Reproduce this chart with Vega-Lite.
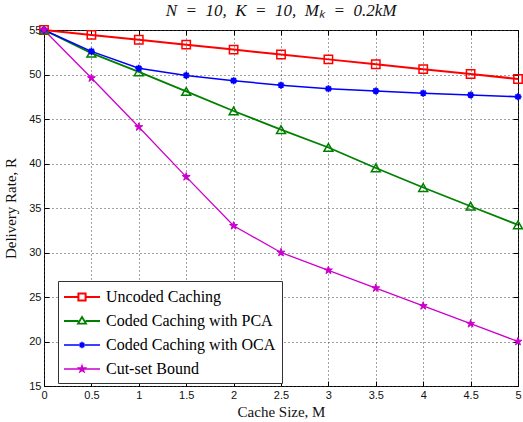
{
  "$schema": "https://vega.github.io/schema/vega-lite/v6.json",
  "width": 474,
  "height": 356,
  "autosize": {"type": "none"},
  "padding": {"left": 44, "top": 30, "right": 5, "bottom": 36},
  "background": "white",
  "config": {
    "view": {"stroke": "#000", "strokeWidth": 1},
    "axis": {
      "labelFont": "Liberation Sans", "labelFontSize": 11, "labelColor": "#111",
      "titleFont": "Liberation Serif", "titleFontSize": 15, "titleFontWeight": "normal", "titleColor": "#111",
      "domain": false, "tickColor": "#000", "tickSize": -5,
      "gridColor": "#444", "gridDash": [1, 3], "gridWidth": 1, "gridOpacity": 1
    }
  },
  "title": {
    "text": "N \u2005= \u200510,\u2002K \u2005= \u200510,\u2002Mₖ \u2005= \u20050.2kM",
    "font": "Liberation Serif", "fontSize": 17, "fontStyle": "italic", "fontWeight": "normal",
    "color": "#111", "anchor": "middle", "offset": 3
  },
  "data": {
    "values": [
      {"M": 0, "series": "Uncoded Caching", "R": 55},
      {"M": 0.5, "series": "Uncoded Caching", "R": 54.45},
      {"M": 1, "series": "Uncoded Caching", "R": 53.9},
      {"M": 1.5, "series": "Uncoded Caching", "R": 53.35},
      {"M": 2, "series": "Uncoded Caching", "R": 52.8},
      {"M": 2.5, "series": "Uncoded Caching", "R": 52.25},
      {"M": 3, "series": "Uncoded Caching", "R": 51.7},
      {"M": 3.5, "series": "Uncoded Caching", "R": 51.15},
      {"M": 4, "series": "Uncoded Caching", "R": 50.6},
      {"M": 4.5, "series": "Uncoded Caching", "R": 50.05},
      {"M": 5, "series": "Uncoded Caching", "R": 49.5},
      {"M": 0, "series": "Coded Caching with PCA", "R": 55},
      {"M": 0.5, "series": "Coded Caching with PCA", "R": 52.4},
      {"M": 1, "series": "Coded Caching with PCA", "R": 50.3},
      {"M": 1.5, "series": "Coded Caching with PCA", "R": 48.1},
      {"M": 2, "series": "Coded Caching with PCA", "R": 45.9},
      {"M": 2.5, "series": "Coded Caching with PCA", "R": 43.8},
      {"M": 3, "series": "Coded Caching with PCA", "R": 41.8},
      {"M": 3.5, "series": "Coded Caching with PCA", "R": 39.5},
      {"M": 4, "series": "Coded Caching with PCA", "R": 37.3},
      {"M": 4.5, "series": "Coded Caching with PCA", "R": 35.2},
      {"M": 5, "series": "Coded Caching with PCA", "R": 33.1},
      {"M": 0, "series": "Coded Caching with OCA", "R": 55},
      {"M": 0.5, "series": "Coded Caching with OCA", "R": 52.6},
      {"M": 1, "series": "Coded Caching with OCA", "R": 50.7},
      {"M": 1.5, "series": "Coded Caching with OCA", "R": 49.9},
      {"M": 2, "series": "Coded Caching with OCA", "R": 49.3},
      {"M": 2.5, "series": "Coded Caching with OCA", "R": 48.8},
      {"M": 3, "series": "Coded Caching with OCA", "R": 48.4},
      {"M": 3.5, "series": "Coded Caching with OCA", "R": 48.15},
      {"M": 4, "series": "Coded Caching with OCA", "R": 47.9},
      {"M": 4.5, "series": "Coded Caching with OCA", "R": 47.7},
      {"M": 5, "series": "Coded Caching with OCA", "R": 47.5},
      {"M": 0, "series": "Cut-set Bound", "R": 55},
      {"M": 0.5, "series": "Cut-set Bound", "R": 49.6},
      {"M": 1, "series": "Cut-set Bound", "R": 44.1},
      {"M": 1.5, "series": "Cut-set Bound", "R": 38.5},
      {"M": 2, "series": "Cut-set Bound", "R": 33.0},
      {"M": 2.5, "series": "Cut-set Bound", "R": 30.0},
      {"M": 3, "series": "Cut-set Bound", "R": 28.0},
      {"M": 3.5, "series": "Cut-set Bound", "R": 26.0},
      {"M": 4, "series": "Cut-set Bound", "R": 24.0},
      {"M": 4.5, "series": "Cut-set Bound", "R": 22.0},
      {"M": 5, "series": "Cut-set Bound", "R": 20.0}
    ]
  },
  "resolve": {"axis": {"x": "independent", "y": "independent"}},
  "layer": [
    {
      "mark": {"type": "line", "clip": false},
      "encoding": {
        "x": {
          "field": "M", "type": "quantitative",
          "scale": {"domain": [0, 5], "nice": false, "zero": false},
          "axis": {
            "title": "Cache Size, M", "values": [0, 0.5, 1, 1.5, 2, 2.5, 3, 3.5, 4, 4.5, 5],
            "format": "~g", "labelPadding": 8, "titleY": 18, "labelFlush": false
          }
        },
        "y": {
          "field": "R", "type": "quantitative",
          "scale": {"domain": [15, 55], "nice": false, "zero": false},
          "axis": {
            "title": "Delivery Rate, R", "values": [15, 20, 25, 30, 35, 40, 45, 50, 55],
            "labelPadding": 8, "titleX": -26, "labelFlush": false
          }
        },
        "color": {
          "field": "series", "type": "nominal",
          "scale": {
            "domain": ["Uncoded Caching", "Coded Caching with PCA", "Coded Caching with OCA", "Cut-set Bound"],
            "range": ["#ff0000", "#008000", "#0000ff", "#cc00cc"]
          },
          "legend": {
            "title": null, "orient": "none", "legendX": 14, "legendY": 251,
            "direction": "vertical",
            "labelFont": "Liberation Serif", "labelFontSize": 16, "labelColor": "#000", "labelLimit": 400,
            "symbolSize": 324, "symbolStrokeWidth": 1.5, "symbolOffset": 8, "labelOffset": 14,
            "rowPadding": 6, "padding": 6,
            "fillColor": "white", "strokeColor": "#333",
            "encode": {
              "symbols": {
                "update": {
                  "shape": {"signal": "datum.value == 'Uncoded Caching' ? 'M-2,0L-0.4,0M0.4,0L2,0M-0.4,-0.4L0.4,-0.4L0.4,0.4L-0.4,0.4Z' : datum.value == 'Coded Caching with PCA' ? 'M-2,0L-0.4,0M0.4,0L2,0M0,-0.45L0.45,0.3L-0.45,0.3Z' : datum.value == 'Coded Caching with OCA' ? 'M-2,0L2,0M0,-0.35L0,0.35M-0.25,-0.25L0.25,0.25M-0.25,0.25L0.25,-0.25' : 'M-2,0L2,0M0,-0.4L0.09,-0.124L0.38,-0.124L0.146,0.048L0.236,0.324L0,0.153L-0.236,0.324L-0.146,0.048L-0.38,-0.124L-0.09,-0.124Z'"},
                  "fill": {"signal": "datum.value == 'Cut-set Bound' ? '#cc00cc' : 'transparent'"}
                }
              }
            }
          }
        },
        "strokeWidth": {
          "field": "series", "type": "nominal",
          "scale": {
            "domain": ["Uncoded Caching", "Coded Caching with PCA", "Coded Caching with OCA", "Cut-set Bound"],
            "range": [2, 1.3, 2, 1.3]
          },
          "legend": null
        }
      }
    },
    {
      "transform": [{"filter": "datum.series == 'Uncoded Caching'"}],
      "mark": {"type": "point", "shape": "square", "filled": false, "stroke": "#ff0000", "strokeWidth": 1.5, "size": 70, "opacity": 1, "clip": false},
      "encoding": {
        "x": {"field": "M", "type": "quantitative", "axis": {"orient": "top", "labels": false, "title": null, "grid": false, "values": [0, 0.5, 1, 1.5, 2, 2.5, 3, 3.5, 4, 4.5, 5]}},
        "y": {"field": "R", "type": "quantitative", "axis": {"orient": "right", "labels": false, "title": null, "grid": false, "values": [15, 20, 25, 30, 35, 40, 45, 50, 55]}}
      }
    },
    {
      "transform": [{"filter": "datum.series == 'Coded Caching with PCA'"}],
      "mark": {"type": "point", "shape": "triangle-up", "filled": false, "stroke": "#008000", "strokeWidth": 1.5, "size": 80, "opacity": 1, "clip": false},
      "encoding": {
        "x": {"field": "M", "type": "quantitative", "axis": null},
        "y": {"field": "R", "type": "quantitative", "axis": null}
      }
    },
    {
      "transform": [{"filter": "datum.series == 'Coded Caching with OCA'"}],
      "mark": {"type": "point", "shape": "M0,-1L0,1M-1,0L1,0M-0.7,-0.7L0.7,0.7M-0.7,0.7L0.7,-0.7", "filled": false, "stroke": "#0000ff", "strokeWidth": 1.8, "size": 50, "opacity": 1, "clip": false},
      "encoding": {
        "x": {"field": "M", "type": "quantitative", "axis": null},
        "y": {"field": "R", "type": "quantitative", "axis": null}
      }
    },
    {
      "transform": [{"filter": "datum.series == 'Cut-set Bound'"}],
      "mark": {"type": "point", "shape": "M0,-1L0.225,-0.309L0.951,-0.309L0.363,0.118L0.588,0.809L0,0.382L-0.588,0.809L-0.363,0.118L-0.951,-0.309L-0.225,-0.309Z", "filled": true, "fill": "#cc00cc", "stroke": "#cc00cc", "strokeWidth": 1, "size": 70, "opacity": 1, "clip": false},
      "encoding": {
        "x": {"field": "M", "type": "quantitative", "axis": null},
        "y": {"field": "R", "type": "quantitative", "axis": null}
      }
    }
  ]
}
